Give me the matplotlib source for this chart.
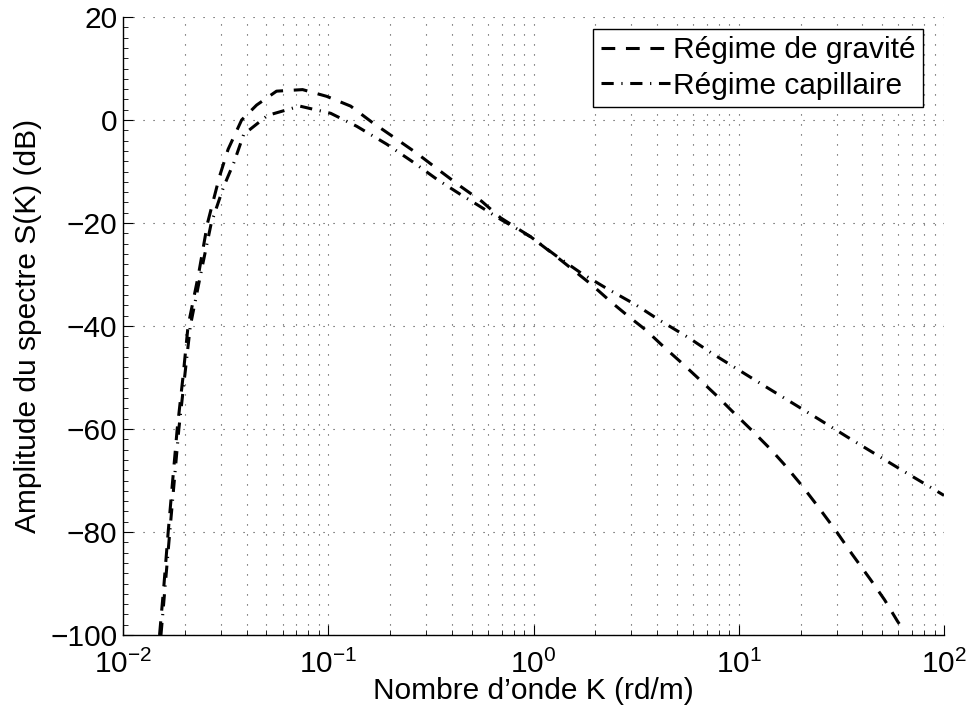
import matplotlib
matplotlib.use("Agg")
import matplotlib.pyplot as plt
from matplotlib.ticker import LogLocator, MultipleLocator, NullFormatter

plt.rcParams['font.family'] = ['Liberation Sans', 'DejaVu Sans']
plt.rcParams['mathtext.fontset'] = 'custom'
plt.rcParams['mathtext.rm'] = 'Liberation Sans'
plt.rcParams['mathtext.it'] = 'Liberation Sans:italic'
plt.rcParams['mathtext.bf'] = 'Liberation Sans:bold'

# --- Data ---
# Régime de gravité
k_grav = [0.01507, 0.01585, 0.01660, 0.01746, 0.01837, 0.01959, 0.02075, 0.02333,
          0.02582, 0.02951, 0.03251, 0.03784, 0.04477, 0.05598, 0.07499, 0.09817,
          0.1285, 0.1629, 0.2061, 0.2667, 0.3532, 0.4416, 0.5598, 0.6918, 0.9705,
          1.227, 1.923, 2.382, 2.917, 3.532, 4.325, 5.284, 6.252, 7.745, 9.484,
          11.61, 14.35, 16.60, 20.32, 24.05, 29.79, 35.65, 43.95, 51.40, 59.29, 61.66]
s_grav = [-100, -90, -80, -70, -60, -50, -40, -30,
          -20, -11, -5.7, 0.0, 2.9, 5.6, 5.9, 4.6,
          2.7, -0.4, -3.2, -6.3, -10.0, -12.9, -15.8, -19.0, -22.7,
          -25.8, -32.0, -35.3, -38.2, -40.8, -44.1, -47.2, -49.9, -53.4, -56.9,
          -60.3, -64.0, -66.8, -71.0, -74.8, -79.8, -84.3, -89.3, -93.2, -97.3, -98.3]

# Régime capillaire
k_cap = [0.01531, 0.01690, 0.01871, 0.01995, 0.02128, 0.02388, 0.02692, 0.03090,
         0.03475, 0.03873, 0.05070, 0.07261, 0.1028, 0.1374, 0.1928, 0.2553,
         0.3381, 0.4426, 0.5297, 0.6918, 0.9705, 1.282, 1.702, 2.249, 3.155,
         4.083, 5.715, 7.396, 9.683, 13.55, 18.16, 24.55, 33.65, 45.60, 62.37,
         87.50, 100.0]
s_cap = [-100, -80, -60, -50, -40, -30, -20, -13,
         -8.2, -2.8, 0.9, 2.7, 1.3, -1.2, -4.7, -8.0,
         -11.5, -14.5, -16.4, -19.3, -22.7, -26.3, -29.7, -32.6, -35.9,
         -38.8, -42.3, -45.3, -48.2, -51.8, -54.9, -58.1, -61.5, -64.7, -68.0,
         -71.5, -72.9]

FS = 21.5

# --- Figure ---
fig = plt.figure(figsize=(9.66, 7.19), dpi=100)
ax = fig.add_axes([123 / 966, 84 / 719, 821 / 966, 618 / 719])

ax.semilogx(k_grav, s_grav, color='black', linewidth=2.2,
            linestyle=(0, (4.5, 3.5)), label='Régime de gravité')
ax.semilogx(k_cap, s_cap, color='black', linewidth=2.2,
            linestyle=(0, (4, 2.5, 0.4, 2.5)), label='Régime capillaire')

ax.set_xlim(1e-2, 1e2)
ax.set_ylim(-100, 20)
ax.xaxis.set_major_locator(LogLocator(base=10, numticks=10))
ax.xaxis.set_minor_locator(LogLocator(base=10, subs=range(2, 10), numticks=20))
ax.xaxis.set_minor_formatter(NullFormatter())
ax.yaxis.set_major_locator(MultipleLocator(20))
ax.yaxis.set_minor_locator(MultipleLocator(2))

# MATLAB-like look: no box, inward ticks, dotted grid
for side in ('top', 'right'):
    ax.spines[side].set_visible(False)
for side in ('left', 'bottom'):
    ax.spines[side].set_linewidth(1.0)
ax.tick_params(which='major', direction='in', length=7, width=0.8, labelsize=FS)
ax.tick_params(which='minor', direction='in', length=3.5, width=0.6)
ax.tick_params(axis='x', which='major', pad=11)
ax.tick_params(axis='y', which='major', pad=4)

ax.grid(True, which='major', axis='both', color='0.25', linewidth=0.8,
        linestyle=(0, (1, 8)))
ax.grid(True, which='minor', axis='x', color='0.25', linewidth=0.8,
        linestyle=(0, (1, 8)))

ax.set_xlabel('Nombre d\u2019onde K (rd/m)', fontsize=FS, labelpad=-2)
ax.set_ylabel('Amplitude du spectre S(K) (dB)', fontsize=FS, labelpad=6)

leg = ax.legend(loc='upper right', bbox_to_anchor=(0.974, 0.981), borderaxespad=0,
                fontsize=FS, handlelength=2.3, handletextpad=0.1,
                labelspacing=0.25, borderpad=0.25, fancybox=False, framealpha=1)
leg.get_frame().set_edgecolor('black')
leg.get_frame().set_linewidth(1.0)

fig.savefig('out.png', dpi=100)
